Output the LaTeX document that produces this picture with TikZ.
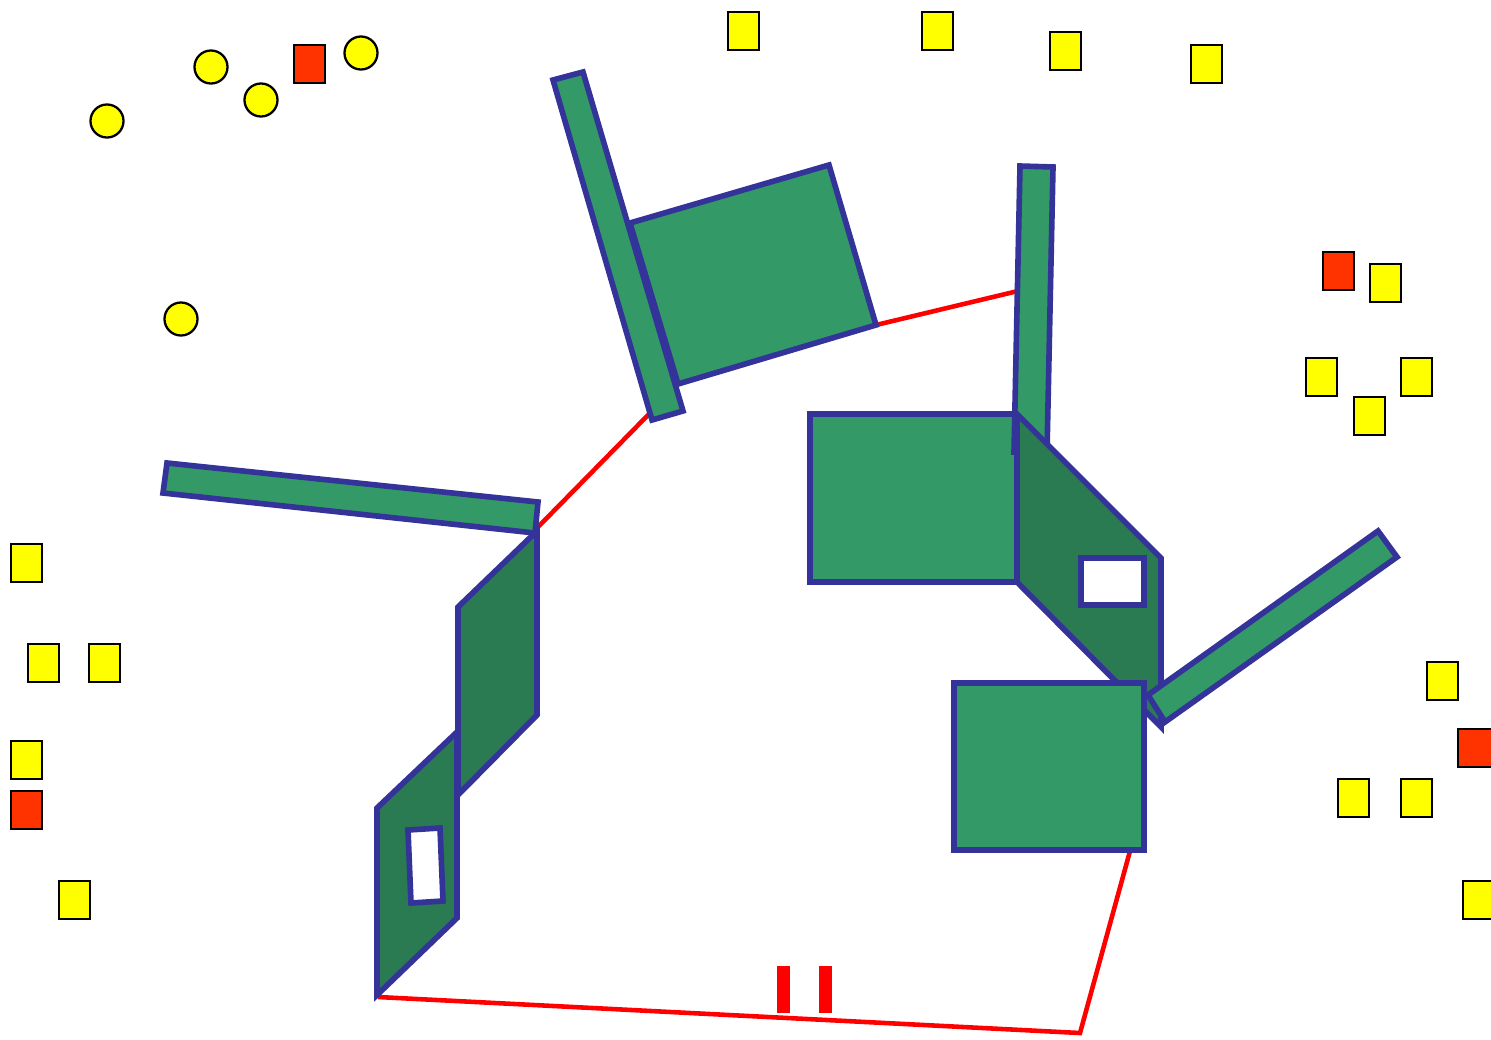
\documentclass[tikz,border=0pt]{standalone}
\usepackage{xcolor}
\definecolor{wallgreen}{HTML}{339966}
\definecolor{wallshade}{HTML}{2A7A52}
\definecolor{wallline}{HTML}{333399}
\definecolor{tokenyellow}{HTML}{FFFF00}
\definecolor{tokenred}{HTML}{FF3300}
\definecolor{linkred}{HTML}{FF0000}
\usepackage{tikz}
\usetikzlibrary{positioning}

\begin{document}
\begin{tikzpicture}[x=0.01cm, y=-0.01cm,
    slab/.style={fill=wallgreen, draw=wallline, line width=1.6pt},
    panel/.style={fill=wallshade, draw=wallline, line width=1.6pt},
    window/.style={fill=white, draw=wallline, line width=1.6pt},
    link/.style={draw=linkred, line width=1.3pt},
    token/.style={fill=tokenyellow, draw=black, line width=0.65pt},
    redtoken/.style={fill=tokenred, draw=black, line width=0.65pt}]
  \useasboundingbox (0,0) rectangle (1491,1039);
  \clip (0,0) rectangle (1491,1039);
  % Sketch: scattered tokens round a ring of walls
  \foreach \x/\y in {211/67, 261/100, 361/53, 107/121, 181/319}
    \draw[token] (\x,\y) circle (0.165cm);
  \foreach \x/\y in {728/12, 922/12, 1050/32, 1191/45, 1370/264, 1306/358,
      1401/358, 1354/397, 1427/662, 1401/779, 1338/779,
      11/544, 28/644, 89/644, 11/741, 59/881}
    \draw[token] (\x,\y) rectangle ++(31,38);
  \foreach \x/\y in {294/45, 1323/252, 11/791}
    \draw[redtoken] (\x,\y) rectangle ++(31,38);
  % the two cut off at the right edge
  \draw[redtoken] (1458,729) rectangle ++(40,38);
  \draw[token] (1463,881) rectangle ++(40,38);

  % red links between the walls
  \coordinate (ledge) at (537,528);
  \coordinate (barfoot) at (650,413);
  \coordinate (sqcorner) at (876,325);
  \coordinate (postside) at (1018,291);
  \coordinate (boxfoot) at (1130,851);
  \coordinate (bend) at (1080,1033);
  \coordinate (panelfoot) at (378,997);
  \draw[link] (ledge) -- (barfoot);
  \draw[link] (sqcorner) -- (postside);
  \draw[link] (boxfoot) -- (bend) -- (panelfoot);
  \fill[linkred] (777,966) rectangle (790,1013);
  \fill[linkred] (819,966) rectangle (832,1013);

  % left side
  \draw[slab] (167,463) -- (538,502) -- (535,533) -- (163,493) -- cycle;
  \draw[panel] (457,732) -- (377,808) -- (377,995) -- (457,918) -- cycle;
  \draw[window] (408,830) -- (440,828) -- (443,901) -- (411,903) -- cycle;
  \draw[panel] (537,531) -- (458,607) -- (458,795) -- (537,715) -- cycle;

  % top
  \draw[slab] (553,80) -- (583,72) -- (683,411) -- (652,420) -- cycle;
  \draw[slab] (630,223) -- (829,165) -- (876,325) -- (678,384) -- cycle;

  % right side
  \draw[slab] (810,414) rectangle (1017,582);
  \draw[slab] (1020,166) -- (1053,167) -- (1047,452) -- (1014,452) -- cycle;
  \draw[panel] (1017,414) -- (1161,558) -- (1161,727) -- (1017,582) -- cycle;
  \draw[window] (1081,558) rectangle (1144,605);
  \draw[slab] (1148,695) -- (1378,531) -- (1397,557) -- (1165,722) -- cycle;
  \draw[slab] (954,683) rectangle (1144,850);
\end{tikzpicture}
\end{document}
